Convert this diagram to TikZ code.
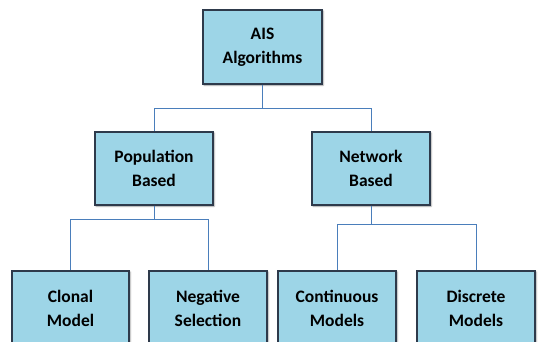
\documentclass[tikz,border=0pt]{standalone}
\usepackage{fontspec}
\setmainfont{Carlito}
\usepackage{xcolor}
\usetikzlibrary{
    positioning,
    calc,
    shadows.blur
}
\definecolor{boxfill}{HTML}{9DD5E7}
\definecolor{boxedge}{HTML}{2E3A4B}
\definecolor{linkblue}{HTML}{4A7EBB}
\tikzset{
    % Box style for each algorithm class
    algobox/.style={
        rectangle,
        minimum width=118pt,
        minimum height=73pt,
        align=center,
        font=\fontsize{17.5}{24}\selectfont\bfseries,
        draw=boxedge,
        fill=boxfill,
        line width=1.3pt,
        blur shadow={shadow blur steps=4, shadow xshift=1pt, shadow yshift=-1pt}
    },
    % Tree connector style
    link/.style={
        line width=0.8pt,
        color=linkblue
    }
}

\begin{document}
\begin{tikzpicture}[x=1pt, y=-1pt]

        % Page frame
        \path[use as bounding box, clip] (0,0) rectangle (545,341);

        % Root
        \node[algobox, minimum width=119pt, minimum height=74pt] (ais) at (262.5, 47) {AIS\\Algorithms};

        % Second level
        \node[algobox] (pop) at (154, 168.5) {Population\\Based};
        \node[algobox] (net) at (371, 168.5) {Network\\Based};

        % Leaves
        \node[algobox, minimum width=117pt, minimum height=75pt] (clonal) at (70.5, 308.5) {Clonal\\Model};
        \node[algobox, minimum height=75pt] (neg) at (208, 308.5) {Negative\\Selection};
        \node[algobox, minimum height=75pt] (cont) at (337, 308.5) {Continuous\\Models};
        \node[algobox, minimum height=75pt] (disc) at (476, 308.5) {Discrete\\Models};

        % Connections
        \draw[link] (ais.south) -- ++(0,24) -| (pop.north);
        \draw[link] (ais.south) -- ++(0,24) -| (net.north);

        \draw[link] (pop.south) -- ++(0,14) -| (clonal.north);
        \draw[link] (pop.south) -- ++(0,14) -| (neg.north);
        \draw[link] (net.south) -- ++(0,19) -| (cont.north);
        \draw[link] (net.south) -- ++(0,19) -| (disc.north);

    \end{tikzpicture}
\end{document}
